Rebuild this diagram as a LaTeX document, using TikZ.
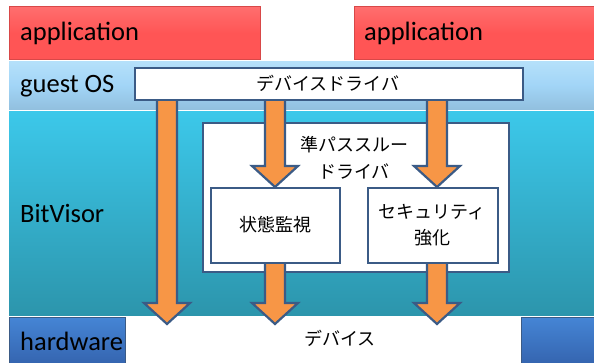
\documentclass[tikz,border=0pt]{standalone}
\usepackage{fontspec}
\setmainfont{Carlito}
\newfontfamily\jp{Noto Sans CJK JP}
\definecolor{appred}{HTML}{FF5555}
\definecolor{appredd}{HTML}{D84848}
\definecolor{guestblue}{HTML}{A2D5F7}
\definecolor{guestbluet}{HTML}{B5E0FA}
\definecolor{bvtop}{HTML}{3CC8EA}
\definecolor{bvbot}{HTML}{2C95AC}
\definecolor{hwtop}{HTML}{4585D5}
\definecolor{hwbot}{HTML}{3565B0}
\definecolor{edge}{HTML}{3B5B86}
\definecolor{orng}{HTML}{F79646}
\tikzset{
  band/.style={inner sep=0pt, anchor=north west},
  whitebox/.style={draw=edge, line width=2.2pt, fill=white, inner sep=0pt, anchor=north west},
  lbl/.style={anchor=west, inner sep=0pt, font=\fontsize{26.5}{28}\selectfont},
  jlbl/.style={inner sep=0pt, align=center, font=\jp\fontsize{18}{26.5}\selectfont},
  barrow/.style={draw=edge, line width=2.2pt, fill=orng, line join=miter}
}
\newcommand\blockarrow[3]{% xc, ytop, ytip
  \filldraw[barrow] (#1-10,#2) -- (#1-10,#3-21) -- (#1-23,#3-21) -- (#1,#3)
    -- (#1+23,#3-21) -- (#1+10,#3-21) -- (#1+10,#2) -- cycle;}
\begin{document}
\begin{tikzpicture}[x=1pt,y=-1pt]
\useasboundingbox (0,0) rectangle (594,363);
% application bars
\node[band, minimum width=251pt, minimum height=53pt, top color=appred!85!white, bottom color=appred, middle color=appred, draw=appredd, line width=0.8pt] (app1) at (9,6) {};
\node[band, minimum width=240pt, minimum height=53pt, top color=appred!85!white, bottom color=appred, middle color=appred, draw=appredd, line width=0.8pt] (app2) at (354,6) {};
% guest OS band
\node[band, minimum width=585pt, minimum height=48pt, top color=guestbluet, bottom color=guestblue!90!black, middle color=guestblue] (guest) at (9,61) {};
% BitVisor band
\node[band, minimum width=585pt, minimum height=204pt, top color=bvtop, bottom color=bvbot] (bv) at (9,111) {};
% hardware
\node[band, minimum width=116pt, minimum height=46pt, top color=hwtop, bottom color=hwbot, draw=edge, line width=0.6pt] (hw1) at (9,317) {};
\node[band, minimum width=73pt, minimum height=46pt, top color=hwtop, bottom color=hwbot, draw=edge, line width=0.6pt] (hw2) at (521,317) {};
% inner white box
\node[whitebox, minimum width=306pt, minimum height=149pt] (pass) at (202,122) {};
% arrows
\blockarrow{167}{99}{324}
\blockarrow{275}{99}{187}
\blockarrow{437}{99}{187}
\blockarrow{275}{262}{324}
\blockarrow{437}{262}{324}
% device driver box
\node[whitebox, minimum width=388pt, minimum height=32pt] (drv) at (134,67) {};
% sub boxes
\node[whitebox, minimum width=129pt, minimum height=75pt] (mon) at (210,187) {};
\node[whitebox, minimum width=130pt, minimum height=75pt] (sec) at (367,187) {};
% labels
\node[lbl] (t1) at (20,33) {application};
\node[lbl] (t2) at (364,33) {application};
\node[lbl] (t3) at (20,86) {guest OS};
\node[lbl] (t4) at (20,213) {BitVisor};
\node[lbl] (t5) at (20,341) {hardware};
\node[jlbl] (j1) at (328,83) {デバイスドライバ};
\node[jlbl] (j2) at (354,158) {準パススルー\\ドライバ};
\node[jlbl] (j3) at (275,225) {状態監視};
\node[jlbl] (j4) at (432,225) {セキュリティ\\強化};
\node[jlbl] (j5) at (340,338) {デバイス};
\end{tikzpicture}
\end{document}
